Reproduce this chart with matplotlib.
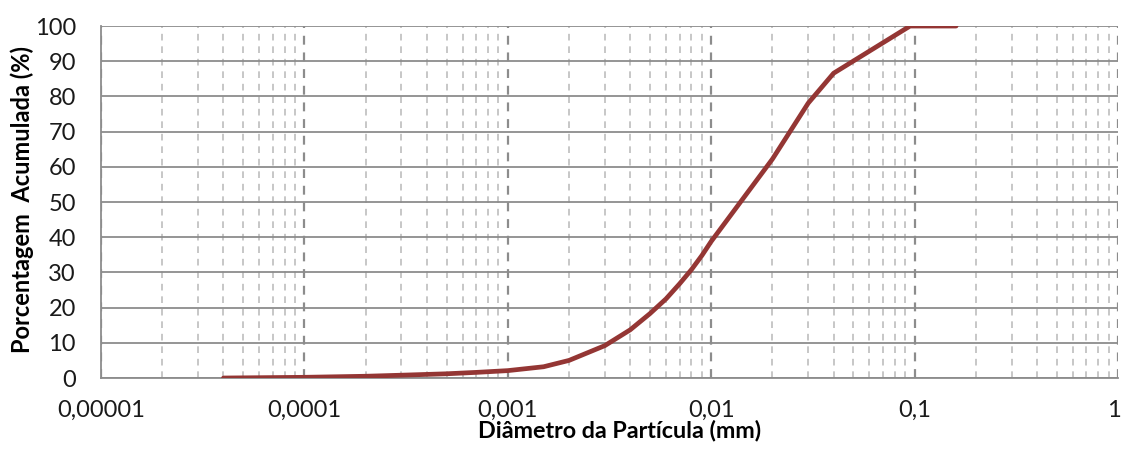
import numpy as np
import matplotlib.pyplot as plt
import matplotlib.transforms as mtransforms
from matplotlib.ticker import FixedLocator, FuncFormatter, NullFormatter

plt.rcParams['font.family'] = ['Lato', 'DejaVu Sans']

# Curva granulométrica (diâmetro em mm x % acumulada)
diametro = [4e-5, 1e-4, 2e-4, 3e-4, 5e-4, 7e-4, 1e-3, 1.5e-3, 2e-3, 3e-3,
            4e-3, 5e-3, 6e-3, 7e-3, 8e-3, 9e-3, 1e-2, 2e-2, 3e-2, 4e-2,
            9.5e-2, 1.6e-1]
acumulada = [0.0, 0.2, 0.5, 0.8, 1.2, 1.6, 2.1, 3.2, 5.0, 9.2,
             13.7, 18.3, 22.5, 26.8, 30.8, 34.8, 38.8, 62.2, 78.1, 86.6,
             100.0, 100.0]

x_ticks = [1e-5, 1e-4, 1e-3, 1e-2, 1e-1, 1]
x_labels = ['0,00001', '0,0001', '0,001', '0,01', '0,1', '1']
y_ticks = list(range(0, 101, 10))

fig = plt.figure(figsize=(11.21, 4.49), dpi=100)
ax = fig.add_axes([0.0901, 0.1581, 0.9072, 0.7839])

ax.set_xscale('log')
ax.set_xlim(1e-5, 1)
ax.set_ylim(0, 100)

minor = [m * 10.0 ** e for e in range(-5, 0) for m in range(2, 10)]
ax.xaxis.set_major_locator(FixedLocator(x_ticks))
ax.xaxis.set_minor_locator(FixedLocator(minor))
ax.xaxis.set_major_formatter(FuncFormatter(lambda v, p: x_labels[x_ticks.index(v)] if v in x_ticks else ''))
ax.xaxis.set_minor_formatter(NullFormatter())
ax.set_yticks(y_ticks)

ax.grid(True, which='major', axis='y', color='#8c8c8c', linewidth=1.3, linestyle='-')
ax.grid(True, which='major', axis='x', color='#8c8c8c', linewidth=1.6, linestyle=(0, (4, 3.5)))
ax.grid(True, which='minor', axis='x', color='#bdbdbd', linewidth=1.2, linestyle=(0, (4, 3.5)))
ax.set_axisbelow(True)

ax.plot(diametro, acumulada, color='#943634', linewidth=3.4,
        solid_capstyle='round', solid_joinstyle='round', zorder=3)

for side in ['top', 'right']:
    ax.spines[side].set_visible(False)
for side in ['left', 'bottom']:
    ax.spines[side].set_color('#8c8c8c')
    ax.spines[side].set_linewidth(1.3)

ax.tick_params(axis='both', which='both', length=0, labelsize=17, colors='#1a1a1a')
ax.tick_params(axis='x', pad=16)
ax.tick_params(axis='y', pad=18)

# o rótulo "1" fica colado na borda direita
last = ax.get_xticklabels()[-1]
last.set_transform(last.get_transform() + mtransforms.ScaledTranslation(-0.04, 0, fig.dpi_scale_trans))

ax.set_xlabel('Diâmetro da Partícula (mm)', fontsize=16.8, fontweight='bold')
ax.xaxis.set_label_coords(0.51, -0.1696)
ax.xaxis.label.set_va('baseline')

ax.set_ylabel('Porcentagem  Acumulada (%)', fontsize=17, fontweight='bold')
ax.yaxis.set_label_coords(-0.066, 0.5085)

fig.savefig('out.png', dpi=100)
